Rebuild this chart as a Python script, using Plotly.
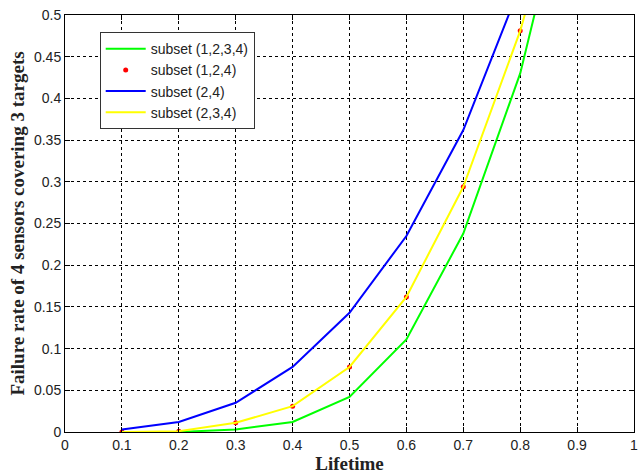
import plotly.graph_objects as go

# Lifetime values (x) and failure rates per sensor subset
lifetime = [0.1, 0.2, 0.3, 0.4, 0.5, 0.6, 0.7, 0.8, 0.9]
subset_1234 = [0.0, 0.0, 0.003, 0.012, 0.042, 0.111, 0.238, 0.430, 0.71]
subset_124 = [0.0, 0.001, 0.011, 0.031, 0.078, 0.162, 0.294, 0.481, 0.72]
subset_24 = [0.003, 0.012, 0.035, 0.078, 0.143, 0.235, 0.362, 0.535, 0.75]
subset_234 = [0.0, 0.001, 0.011, 0.031, 0.078, 0.162, 0.294, 0.481, 0.72]

x_ticks = [0, 0.1, 0.2, 0.3, 0.4, 0.5, 0.6, 0.7, 0.8, 0.9, 1]
x_labels = ["0", "0.1", "0.2", "0.3", "0.4", "0.5", "0.6", "0.7", "0.8", "0.9", "1"]
y_ticks = [0, 0.05, 0.1, 0.15, 0.2, 0.25, 0.3, 0.35, 0.4, 0.45, 0.5]
y_labels = ["0", "0.05", "0.1", "0.15", "0.2", "0.25", "0.3", "0.35", "0.4", "0.45", "0.5"]

fig = go.Figure()
fig.add_trace(go.Scatter(x=lifetime, y=subset_1234, mode="lines", name="subset (1,2,3,4)",
                         line=dict(color="#00ff00", width=2)))
fig.add_trace(go.Scatter(x=lifetime, y=subset_124, mode="markers", name="subset (1,2,4)",
                         marker=dict(color="#ff0000", size=5, symbol="circle")))
fig.add_trace(go.Scatter(x=lifetime, y=subset_24, mode="lines", name="subset (2,4)",
                         line=dict(color="#0000ff", width=2)))
fig.add_trace(go.Scatter(x=lifetime, y=subset_234, mode="lines", name="subset (2,3,4)",
                         line=dict(color="#ffff00", width=2)))

axis_common = dict(
    showline=True, linecolor="black", linewidth=1, mirror="allticks",
    ticks="inside", ticklen=5, tickcolor="black",
    showgrid=True, gridcolor="black", gridwidth=1, griddash="3px,3px",
    zeroline=False, ticklabeloverflow="allow",
    tickfont=dict(family="Liberation Sans, Arial", size=14, color="#222"),
)

title_font = dict(family="Liberation Serif, Times New Roman", size=19, color="#222")

fig.update_layout(
    width=642, height=474,
    margin=dict(l=65, r=4, t=15, b=42),
    paper_bgcolor="white", plot_bgcolor="white",
    xaxis=dict(range=[0, 1], tickvals=x_ticks, ticktext=x_labels,
               title=dict(text="<b>Lifetime</b>", standoff=2, font=title_font),
               **axis_common),
    yaxis=dict(range=[0, 0.5], tickvals=y_ticks, ticktext=y_labels,
               title=dict(text="<b>Failure rate of 4 sensors covering 3 targets</b>", standoff=4,
                          font=title_font),
               **axis_common),
    legend=dict(x=0.061, y=0.959, xanchor="left", yanchor="top",
                bgcolor="white", bordercolor="#333", borderwidth=1,
                font=dict(family="Liberation Sans, Arial", size=14, color="#222"),
                tracegroupgap=0, itemwidth=40),
    showlegend=True,
)

fig.write_html("out.html")
